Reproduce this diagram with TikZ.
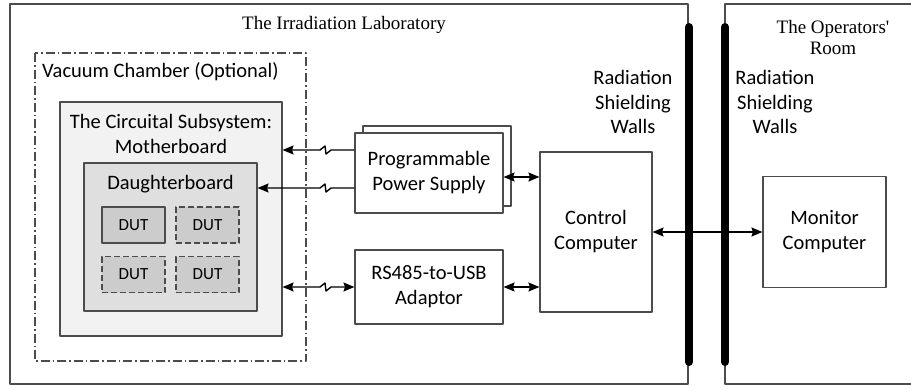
\documentclass[tikz,border=0pt]{standalone}
\usepackage{fontspec}
\setmainfont{Carlito}
\newfontfamily\roomfont{Liberation Serif}
\usetikzlibrary{arrows.meta}

\begin{document}
\begin{tikzpicture}[x=1pt, y=-1pt, line join=round,
    box/.style={draw=black!70, line width=1.1pt, fill=white, inner sep=0pt, align=center, font=\fontsize{20.5}{25}\selectfont},
    dut/.style={box, fill=gray!40, minimum width=63pt, minimum height=36pt, font=\fontsize{17}{20}\selectfont},
    dutdash/.style={dash pattern=on 6pt off 3pt},
    txt/.style={align=center, inner sep=0pt, font=\fontsize{20.5}{24.5}\selectfont},
    room/.style={align=center, inner sep=0pt, font=\roomfont\fontsize{19}{21}\selectfont},
    sig/.style={line width=1.4pt, -{Stealth[length=11pt,width=9pt,inset=1.5pt]}},
    dsig/.style={line width=1.4pt, {Stealth[length=11pt,width=9pt,inset=1.5pt]}-{Stealth[length=11pt,width=9pt,inset=1.5pt]}},
    wall/.style={line width=8pt, line cap=round}]
  \useasboundingbox (0,0) rectangle (911,389);

  \draw[black!70, line width=1.1pt] (10,4) rectangle (688,384);
  \draw[black!70, line width=1.1pt] (911,4) -- (725,4) -- (725,384) -- (911,384);
  \node[room] (labname) at (344,25) {The Irradiation Laboratory};
  \node[room] (roomname) at (833,37) {The Operators'\\Room};

  \draw[black!70, line width=1.1pt, dash pattern=on 9pt off 3pt on 1.5pt off 3pt] (35,53) rectangle (306,361);
  \node[txt, anchor=west] (vaclabel) at (42,72) {Vacuum Chamber (Optional)};

  \node[box, fill=gray!10, minimum width=222pt, minimum height=234pt] (mb) at (171,219) {};
  \node[txt] (mblabel) at (171,134) {The Circuital Subsystem:\\Motherboard};
  \node[box, fill=gray!25, minimum width=173pt, minimum height=148pt] (db) at (170.5,237) {};
  \node[txt] (dblabel) at (170.5,184) {Daughterboard};
  \foreach \x/\y/\s [count=\i] in {133.5/225/solid, 207.5/225/dutdash, 133.5/274.5/dutdash, 207.5/274.5/dutdash}
    \node[dut, \s] (dut\i) at (\x,\y) {DUT};

  \node[box, minimum width=148pt, minimum height=80pt] (ppsback) at (437,166) {};
  \node[box, minimum width=148pt, minimum height=80pt] (pps) at (429,173) {Programmable\\Power Supply};
  \node[box, minimum width=148pt, minimum height=74pt] (rs) at (429,287) {RS485-to-USB\\Adaptor};
  \node[box, minimum width=112pt, minimum height=160pt] (cc) at (596,232) {Control\\Computer};
  \node[box, minimum width=123pt, minimum height=111pt] (mc) at (824.5,232) {Monitor\\Computer};

  \node[txt] (wallL) at (633,102) {Radiation\\Shielding\\Walls};
  \node[txt] (wallR) at (775,102) {Radiation\\Shielding\\Walls};
  \draw[wall] (689,27) -- (689,362);
  \draw[wall] (725,27) -- (725,362);

  \draw[sig] (pps.west |- 0,150) -- (331,150) -- ++(-5,4) -- ++(-1,-8) -- ++(-5,4) -- (mb.east |- 0,150);
  \draw[sig] (pps.west |- 0,188) -- (331,188) -- ++(-5,4) -- ++(-1,-8) -- ++(-5,4) -- (db.east |- 0,188);
  \draw[dsig] (rs.west |- 0,287) -- (331,287) -- ++(-5,4) -- ++(-1,-8) -- ++(-5,4) -- (mb.east |- 0,287);
  \draw[dsig] (pps.east |- 0,177) -- (cc.west |- 0,177);
  \draw[dsig] (rs.east |- 0,287) -- (cc.west |- 0,287);
  \draw[dsig] (cc.east) -- (mc.west);
\end{tikzpicture}
\end{document}
